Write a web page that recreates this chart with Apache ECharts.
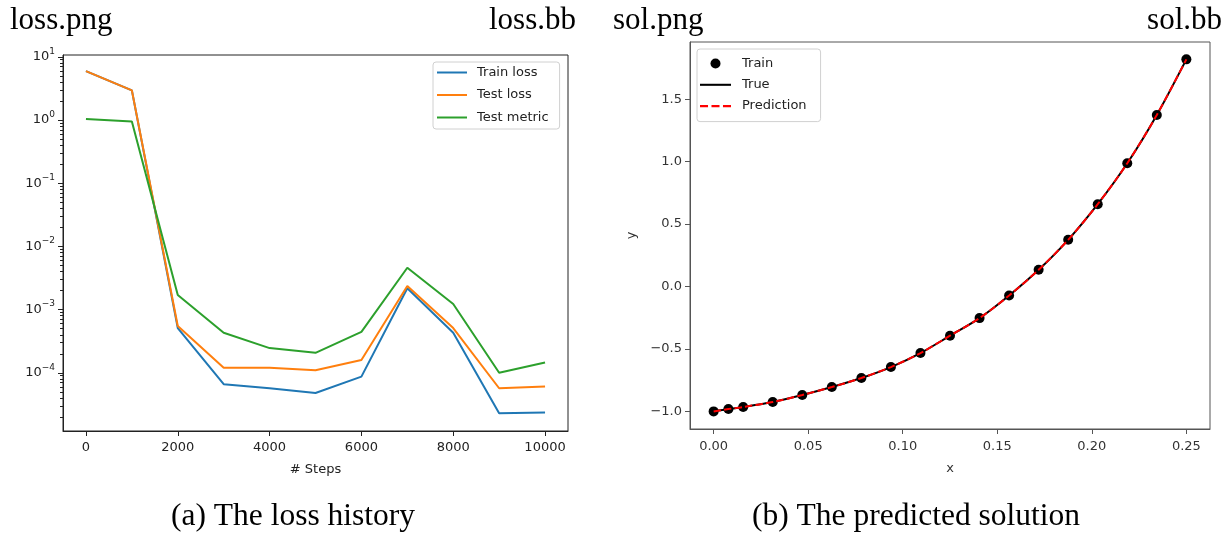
<!DOCTYPE html>
<html>
<head>
<meta charset="UTF-8">
<title>loss history / predicted solution</title>
<script src="https://cdn.jsdelivr.net/npm/echarts@6/dist/echarts.min.js"></script>
<style>
  html, body { margin: 0; padding: 0; background: #fff; }
  #chart { width: 1228px; height: 535px; }
</style>
</head>
<body>
<div id="chart"></div>
<script>
  // (a) loss history
  const steps = [0, 1000, 2000, 3000, 4000, 5000, 6000, 7000, 8000, 9000, 10000];
  const trainLoss = [5.95, 2.95, 5.1e-4, 6.6e-5, 5.7e-5, 4.8e-5, 8.7e-5, 2.18e-3, 4.3e-4, 2.3e-5, 2.36e-5];
  const testLoss = [5.95, 2.95, 5.5e-4, 1.2e-4, 1.2e-4, 1.1e-4, 1.59e-4, 2.37e-3, 5.1e-4, 5.7e-5, 6.1e-5];
  const testMetric = [1.04, 0.95, 1.71e-3, 4.3e-4, 2.46e-4, 2.07e-4, 4.45e-4, 4.6e-3, 1.23e-3, 1.0e-4, 1.46e-4];
  const stepTicks = [0, 2000, 4000, 6000, 8000, 10000];
  const lossTicks = [1e-4, 1e-3, 1e-2, 1e-1, 1, 10];
  const lossMinorTicks = [];
  for (let e = -5; e <= 0; e++) {
    for (let k = 2; k <= 9; k++) lossMinorTicks.push(k * Math.pow(10, e));
  }

  // (b) predicted solution
  const trainX = [0, 0.0078125, 0.015625, 0.03125, 0.046875, 0.0625, 0.078125, 0.09375, 0.109375,
                  0.125, 0.140625, 0.15625, 0.171875, 0.1875, 0.203125, 0.21875, 0.234375, 0.25];
  const trainY = [-1.0, -0.981, -0.965, -0.925, -0.869, -0.805, -0.733, -0.645, -0.533,
                  -0.394, -0.253, -0.072, 0.134, 0.374, 0.659, 0.987, 1.374, 1.819];
  const trueY = [-1.0, -0.981, -0.965, -0.925, -0.869, -0.805, -0.733, -0.645, -0.533,
                 -0.394, -0.253, -0.072, 0.134, 0.374, 0.659, 0.987, 1.374, 1.819];
  const predY = [-1.0, -0.981, -0.965, -0.925, -0.869, -0.805, -0.733, -0.645, -0.533,
                 -0.394, -0.253, -0.072, 0.134, 0.374, 0.659, 0.987, 1.374, 1.819];
  const xTicks = [0, 0.05, 0.1, 0.15, 0.2, 0.25];
  const yTicks = [-1, -0.5, 0, 0.5, 1, 1.5];

  const sans = 'DejaVu Sans';
  const serif = 'Liberation Serif';
  const minus = s => s.replace('-', '\u2212');
  const zip = (xs, ys) => xs.map((x, i) => [x, ys[i]]);

  // legend glyphs: a plain 2px stroke and a dashed one
  const solidIcon = 'path://M0,0H30V2H0Z';
  const dashIcon = 'path://M0,0H7.4V2H0Z M10.6,0H18V2H10.6Z M21.2,0H28.6V2H21.2Z';

  const chart = echarts.init(document.getElementById('chart'));

  const head = (text, pos, size) => Object.assign({
    text: text,
    padding: 0,
    textStyle: { fontFamily: serif, fontSize: size, fontWeight: 'normal', color: '#000' }
  }, pos);

  const option = {
    animation: false,
    backgroundColor: '#fff',
    title: [
      head('loss.png', { left: 10, top: 5 }, 31),
      head('loss.bb', { right: 652, top: 5 }, 31),
      head('sol.png', { left: 613, top: 5 }, 31),
      head('sol.bb', { right: 6, top: 5 }, 31),
      head('(a) The loss history', { left: 171, top: 501 }, 31.5),
      head('(b) The predicted solution', { left: 752, top: 501 }, 31.5)
    ],
    grid: [
      { left: 63, top: 55, width: 505, height: 376, show: true, borderColor: '#222', borderWidth: 1, outerBoundsMode: 'none' },
      { left: 690, top: 42, width: 520, height: 387, show: true, borderColor: '#555', borderWidth: 1, outerBoundsMode: 'none' }
    ],
    legend: [
      {
        data: [
          { name: 'Train loss', icon: solidIcon },
          { name: 'Test loss', icon: solidIcon },
          { name: 'Test metric', icon: solidIcon }
        ],
        orient: 'vertical', left: 433, top: 62,
        itemWidth: 30, itemHeight: 14, itemGap: 9.5,
        padding: [4, 11, 5, 4],
        backgroundColor: '#fff', borderColor: '#d0d0d0', borderWidth: 1, borderRadius: 3,
        textStyle: { fontFamily: sans, fontSize: 13, color: '#222', padding: [0, 0, 0, 5] }
      },
      {
        data: [
          { name: 'Train', icon: 'circle' },
          { name: 'True', icon: solidIcon },
          { name: 'Prediction', icon: dashIcon }
        ],
        orient: 'vertical', left: 697, top: 49,
        itemWidth: 31, itemHeight: 10, itemGap: 8.3,
        padding: [8, 14, 9, 3],
        backgroundColor: '#fff', borderColor: '#d0d0d0', borderWidth: 1, borderRadius: 3,
        textStyle: { fontFamily: sans, fontSize: 13, color: '#222', padding: [0, 0, 0, 6] }
      }
    ],
    xAxis: [
      {
        gridIndex: 0, type: 'value', min: -500, max: 10500,
        name: '# Steps', nameLocation: 'middle', nameGap: 32,
        nameTextStyle: { fontFamily: sans, fontSize: 13, color: '#222' },
        axisLine: { onZero: false, lineStyle: { color: '#222' } },
        axisTick: { customValues: stepTicks, length: 5, lineStyle: { color: '#222' } },
        axisLabel: { customValues: stepTicks, margin: 10, fontFamily: sans, fontSize: 13, color: '#222', formatter: v => String(v) },
        splitLine: { show: false }
      },
      {
        gridIndex: 1, type: 'value', min: -0.0125, max: 0.2625,
        name: 'x', nameLocation: 'middle', nameGap: 33,
        nameTextStyle: { fontFamily: sans, fontSize: 13, color: '#333' },
        axisLine: { onZero: false, lineStyle: { color: '#555' } },
        axisTick: { customValues: xTicks, length: 5, lineStyle: { color: '#555' } },
        axisLabel: { customValues: xTicks, margin: 11, fontFamily: sans, fontSize: 13, color: '#333', formatter: v => v.toFixed(2) },
        splitLine: { show: false }
      }
    ],
    yAxis: [
      {
        gridIndex: 0, type: 'log', logBase: 10, min: 1.2e-5, max: 10.7, position: 'left',
        axisLine: { onZero: false, lineStyle: { color: '#222' } },
        axisTick: { customValues: lossTicks, length: 5, lineStyle: { color: '#222' } },
        axisLabel: {
          customValues: lossTicks, margin: 8, color: '#222',
          formatter: v => '{b|10}{s|' + minus(String(Math.round(Math.log10(v)))) + '}',
          rich: {
            b: { fontFamily: sans, fontSize: 13, lineHeight: 20, color: '#222' },
            s: { fontFamily: sans, fontSize: 9, lineHeight: 9, verticalAlign: 'top', color: '#222' }
          }
        },
        splitLine: { show: false }
      },
      {
        gridIndex: 0, type: 'log', logBase: 10, min: 1.2e-5, max: 10.7, position: 'left', offset: 0,
        axisLine: { show: false, onZero: false },
        axisTick: { customValues: lossMinorTicks, length: 3, lineStyle: { color: '#222' } },
        axisLabel: { show: false },
        splitLine: { show: false }
      },
      {
        gridIndex: 1, type: 'value', min: -1.141, max: 1.958,
        name: 'y', nameLocation: 'middle', nameGap: 52, nameRotate: 90,
        nameTextStyle: { fontFamily: sans, fontSize: 13, color: '#333' },
        axisLine: { onZero: false, lineStyle: { color: '#555' } },
        axisTick: { customValues: yTicks, length: 5, lineStyle: { color: '#555' } },
        axisLabel: { customValues: yTicks, margin: 8, fontFamily: sans, fontSize: 13, color: '#333', formatter: v => minus(v.toFixed(1)) },
        splitLine: { show: false }
      }
    ],
    series: [
      {
        name: 'Train loss', type: 'line', xAxisIndex: 0, yAxisIndex: 0,
        data: zip(steps, trainLoss), symbol: 'none',
        color: '#1f77b4', lineStyle: { width: 2, color: '#1f77b4' }
      },
      {
        name: 'Test loss', type: 'line', xAxisIndex: 0, yAxisIndex: 0,
        data: zip(steps, testLoss), symbol: 'none',
        color: '#ff7f0e', lineStyle: { width: 2, color: '#ff7f0e' }
      },
      {
        name: 'Test metric', type: 'line', xAxisIndex: 0, yAxisIndex: 0,
        data: zip(steps, testMetric), symbol: 'none',
        color: '#2ca02c', lineStyle: { width: 2, color: '#2ca02c' }
      },
      {
        name: 'Train', type: 'scatter', xAxisIndex: 1, yAxisIndex: 2,
        data: zip(trainX, trainY), symbol: 'circle', symbolSize: 10,
        color: '#000', itemStyle: { color: '#000', opacity: 1 }
      },
      {
        name: 'True', type: 'line', xAxisIndex: 1, yAxisIndex: 2,
        data: zip(trainX, trueY), symbol: 'none', smooth: 0.3,
        color: '#000', lineStyle: { width: 2, color: '#000' }
      },
      {
        name: 'Prediction', type: 'line', xAxisIndex: 1, yAxisIndex: 2,
        data: zip(trainX, predY), symbol: 'none', smooth: 0.3,
        color: '#ff0000', lineStyle: { width: 2, color: '#ff0000', type: [7.4, 3.2] }
      }
    ]
  };

  chart.setOption(option);
</script>
</body>
</html>
